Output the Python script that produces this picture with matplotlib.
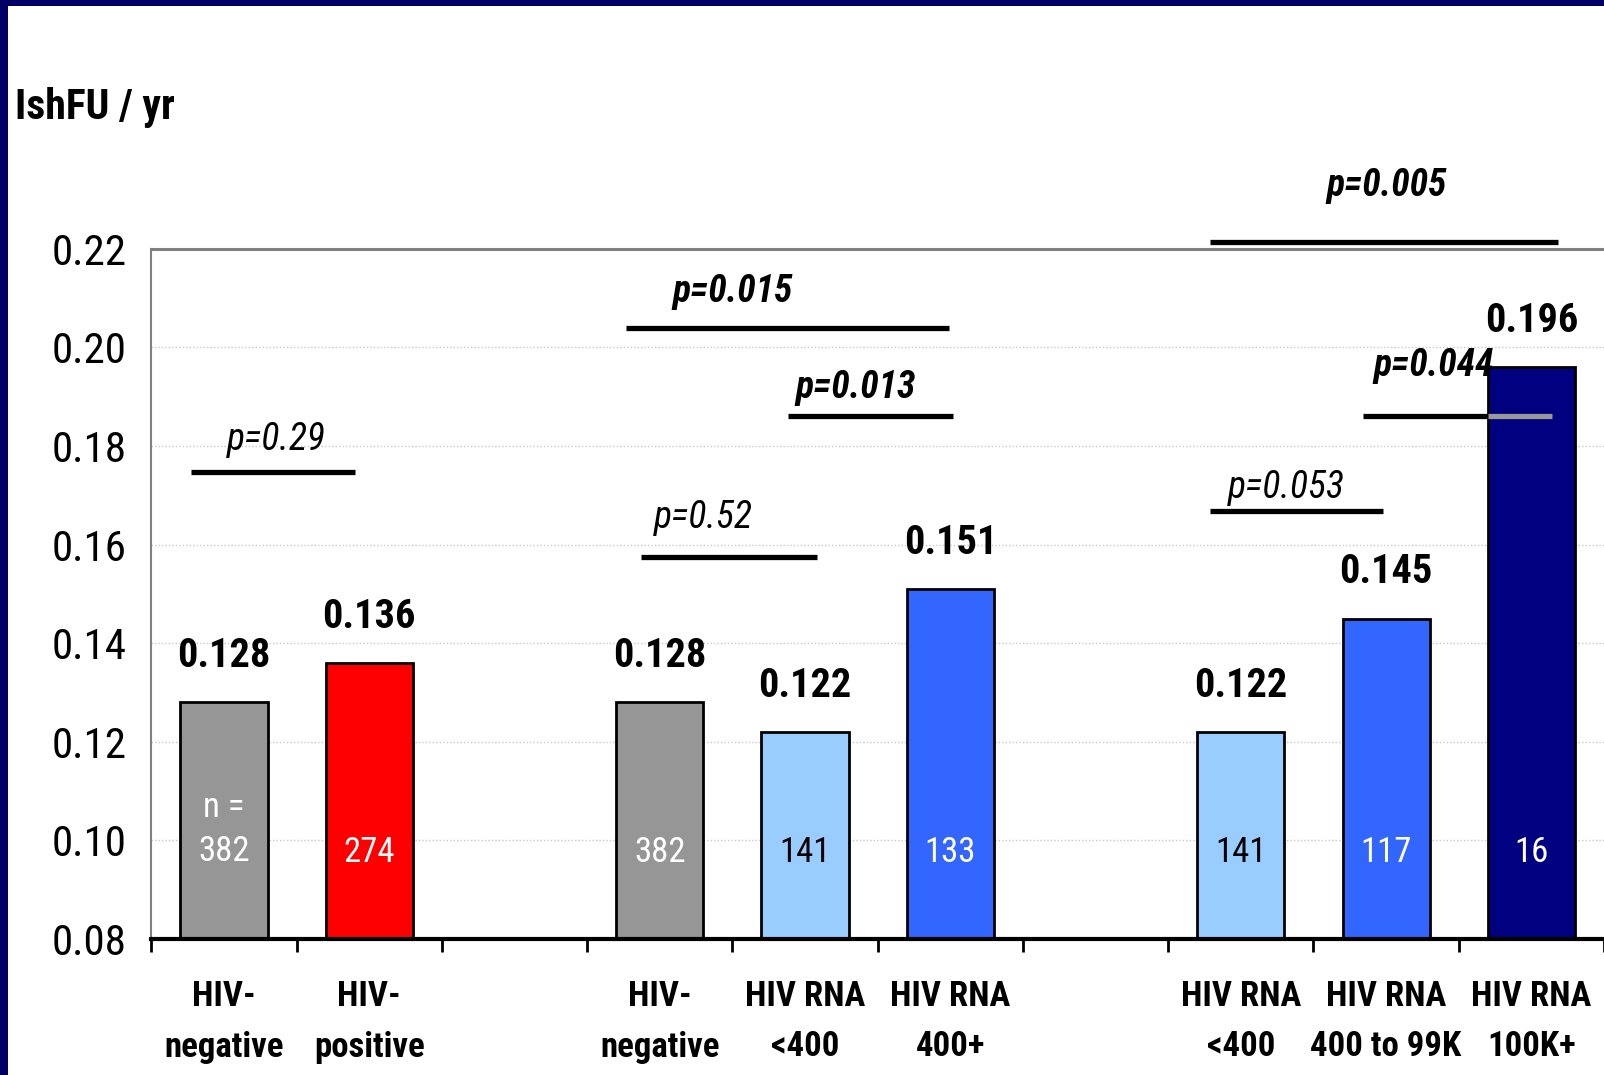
import matplotlib
matplotlib.use("Agg")
import matplotlib.pyplot as plt
from matplotlib.patches import Rectangle
from matplotlib.transforms import blended_transform_factory

plt.rcParams['font.family'] = ['Roboto Condensed', 'DejaVu Sans']

# Bars: slot positions (gaps at 2 and 6 separate the three comparisons)
positions = [0, 1, 3, 4, 5, 7, 8, 9]
values = [0.128, 0.136, 0.128, 0.122, 0.151, 0.122, 0.145, 0.196]
value_labels = ["0.128", "0.136", "0.128", "0.122", "0.151", "0.122", "0.145", "0.196"]
n_labels = ["n =\n382", "274", "382", "141", "133", "141", "117", "16"]
bar_colors = ["#969696", "#FF0000", "#969696", "#99CCFF", "#3366FF", "#99CCFF", "#3366FF", "#000080"]
n_colors = ["white", "white", "white", "black", "white", "black", "white", "white"]
cat_line1 = ["HIV-", "HIV-", "HIV-", "HIV RNA", "HIV RNA", "HIV RNA", "HIV RNA", "HIV RNA"]
cat_line2 = ["negative", "positive", "negative", "<400", "400+", "<400", "400 to 99K", "100K+"]

yticks = [0.08, 0.10, 0.12, 0.14, 0.16, 0.18, 0.20, 0.22]
ytick_labels = ["0.08", "0.10", "0.12", "0.14", "0.16", "0.18", "0.20", "0.22"]

# Significance brackets
p_labels = ["p=0.29", "p=0.52", "p=0.015", "p=0.013", "p=0.053", "p=0.044", "p=0.005"]
p_bold = [False, False, True, True, False, True, True]
p_x0 = [-0.23, 2.87, 2.77, 3.88, 6.79, 7.84, 6.79]
p_x1 = [0.90, 4.08, 4.99, 5.02, 7.98, 9.14, 9.18]
p_line_y = [0.1748, 0.1575, 0.2040, 0.1861, 0.1667, 0.1861, 0.2213]
p_text_x = [0.36, 3.30, 3.50, 4.35, 7.31, 8.33, 8.00]
p_text_y = [0.1791, 0.1634, 0.2092, 0.1897, 0.1694, 0.1942, 0.2307]

W, H = 1604, 1075
fig = plt.figure(figsize=(W / 100, H / 100), dpi=100)
fig.patch.set_facecolor("white")

ax = fig.add_axes([151.4 / W, 1 - 939.1 / H, 1452.6 / W, 690.5 / H])
ax.set_xlim(-0.5, 9.5)
ax.set_ylim(0.08, 0.22)

bar_w = 0.6
ax.bar(positions, values, width=bar_w, color=bar_colors, edgecolor="black",
       linewidth=2, zorder=3)

# Value labels above bars, sample sizes inside
for x, v, lab, n, nc in zip(positions, values, value_labels, n_labels, n_colors):
    ax.text(x, v + 0.0055, lab, ha="center", va="bottom", fontsize=29,
            fontweight="bold", color="black", zorder=5)
    if "\n" in n:
        ax.text(x, 0.1022, n, ha="center", va="center", fontsize=25,
                color=nc, linespacing=1.4, zorder=5)
    else:
        ax.text(x, 0.0975, n, ha="center", va="center", fontsize=25,
                color=nc, zorder=5)

# Gridlines and spines
for y in yticks[1:-1]:
    ax.axhline(y, color="#c8c8c8", linestyle=(0, (1, 1.5)), linewidth=1, zorder=1)
ax.spines["top"].set_color("#808080")
ax.spines["top"].set_linewidth(2.2)
ax.spines["left"].set_color("#808080")
ax.spines["left"].set_linewidth(1.5)
ax.spines["right"].set_visible(False)
ax.spines["bottom"].set_color("black")
ax.spines["bottom"].set_linewidth(3)
ax.spines["bottom"].set_zorder(4)

ax.set_yticks(yticks)
ax.set_yticklabels(ytick_labels, fontsize=31)
ax.tick_params(axis="y", length=0, pad=18)

# Category boundaries as downward ticks; labels drawn as text
ax.set_xticks([p - 0.5 for p in range(11)])
ax.set_xticklabels([])
ax.tick_params(axis="x", direction="out", length=9, width=2, color="black")

trans = blended_transform_factory(ax.transData, fig.transFigure)
for x, l1, l2 in zip(positions, cat_line1, cat_line2):
    ax.text(x, 1 - 997 / H, l1, transform=trans, ha="center", va="center",
            fontsize=25, fontweight="bold")
    ax.text(x, 1 - 1047 / H, l2, transform=trans, ha="center", va="center",
            fontsize=25, fontweight="bold")

# Significance lines and p-values
bar_left = positions[-1] - bar_w / 2
for lab, b, x0, x1, ly, tx, ty in zip(p_labels, p_bold, p_x0, p_x1, p_line_y,
                                      p_text_x, p_text_y):
    ax.plot([x0, x1], [ly, ly], color="black", linewidth=3.8,
            solid_capstyle="butt", clip_on=False, zorder=6)
    ax.text(tx, ty, lab, ha="center", va="baseline", fontsize=27,
            fontstyle="italic", fontweight="bold" if b else "normal",
            clip_on=False, zorder=7)
    # segment crossing the dark bar shows in grey
    if x0 < bar_left < x1 and ly < values[-1]:
        ax.plot([bar_left, x1], [ly, ly], color="#999999", linewidth=3.8,
                solid_capstyle="butt", clip_on=False, zorder=6.5)

# Axis title
fig.text(15 / W, 1 - 108 / H, "IshFU / yr", ha="left", va="center",
         fontsize=30, fontweight="bold")

# Slide frame along top and left edges
fig.patches.append(Rectangle((0, 1 - 6 / H), 1, 6 / H, transform=fig.transFigure,
                             facecolor="#000066", edgecolor="none", zorder=10))
fig.patches.append(Rectangle((0, 0), 8 / W, 1, transform=fig.transFigure,
                             facecolor="#000066", edgecolor="none", zorder=10))

fig.savefig("out.png", dpi=100, facecolor="white")
